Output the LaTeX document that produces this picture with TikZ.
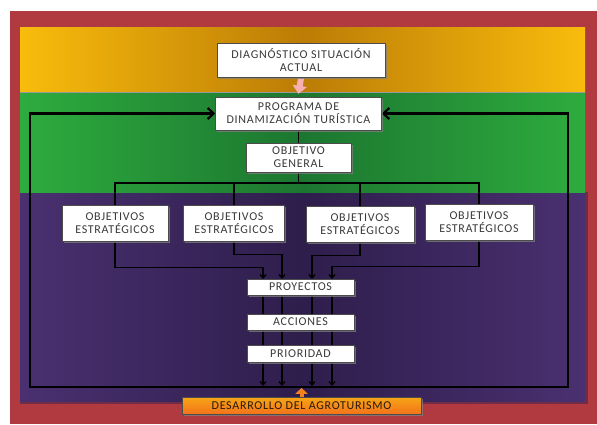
\documentclass[tikz,border=0pt]{standalone}
\usepackage{fontspec}
\setmainfont{Carlito}[LetterSpace=6]
\usetikzlibrary{arrows.meta,shadows}

\definecolor{marco}{RGB}{176,58,64}
\definecolor{oroA}{RGB}{248,188,12}
\definecolor{oroB}{RGB}{188,124,6}
\definecolor{verdeA}{RGB}{46,172,62}
\definecolor{verdeB}{RGB}{28,118,48}
\definecolor{moradoA}{RGB}{74,48,112}
\definecolor{moradoB}{RGB}{46,30,76}
\definecolor{rosa}{RGB}{246,176,180}
\definecolor{naranja}{RGB}{242,128,30}
\definecolor{textgris}{RGB}{58,58,58}

\pgfdeclarelayer{fondo}
\pgfdeclarelayer{lineas}
\pgfsetlayers{fondo,lineas,main}

\tikzset{
  caja/.style={draw=gray!60!black, fill=white, text=textgris, align=center,
    font=\fontsize{12}{13}\selectfont, inner sep=0pt,
    drop shadow={shadow xshift=1.6pt, shadow yshift=-1.6pt, opacity=0.75}},
  linea/.style={black, line width=1.3pt},
  flecha/.style={-{Straight Barb[length=3.5pt,width=6pt]}},
  lazo/.style={black, line width=2.2pt,
    {Straight Barb[length=6pt,width=11pt]}-{Straight Barb[length=6pt,width=11pt]}},
}

\begin{document}
\begin{tikzpicture}[x=1pt,y=-1pt]
	\useasboundingbox (0,0) rectangle (597,424);
	% cajas
	\node[caja, minimum width=168pt, minimum height=34pt] (diag) at (301,60) {DIAGNÓSTICO SITUACIÓN\\ACTUAL};
	\node[caja, minimum width=166pt, minimum height=33pt] (prog) at (298.5,113.5) {PROGRAMA DE\\DINAMIZACIÓN TURÍSTICA};
	\node[caja, minimum width=105pt, minimum height=29pt] (gen) at (298.5,157.5) {OBJETIVO\\GENERAL};
	\node[caja, minimum width=106pt, minimum height=36pt] (e1) at (115,223) {OBJETIVOS\\ESTRATÉGICOS};
	\node[caja, minimum width=101pt, minimum height=36pt] (e2) at (234,223) {OBJETIVOS\\ESTRATÉGICOS};
	\node[caja, minimum width=108pt, minimum height=36pt] (e3) at (360,224) {OBJETIVOS\\ESTRATÉGICOS};
	\node[caja, minimum width=108pt, minimum height=36pt] (e4) at (479,222) {OBJETIVOS\\ESTRATÉGICOS};
	\node[caja, minimum width=107pt, minimum height=16pt] (proy) at (300.5,287) {PROYECTOS};
	\node[caja, minimum width=107pt, minimum height=16pt] (acc) at (300.5,322) {ACCIONES};
	\node[caja, minimum width=107pt, minimum height=17pt] (prio) at (300.5,353.5) {PRIORIDAD};
	\node[caja, minimum width=239pt, minimum height=17pt, text=black!80!brown,
		top color=naranja!70!yellow, bottom color=naranja!90!red, draw=black!70] (des) at (301.5,405.5) {DESARROLLO DEL AGROTURISMO};

	\coordinate (bus) at (298.5,183);
	\coordinate (p1) at (263,279);
	\coordinate (p2) at (282,279);
	\coordinate (p3) at (312,279);
	\coordinate (p4) at (332,279);
	\coordinate (q1) at (263,386);
	\coordinate (q2) at (282,386);
	\coordinate (q3) at (312,386);
	\coordinate (q4) at (332,386);
	\coordinate (li) at (30,113.5);
	\coordinate (lb) at (30,387);
	\coordinate (rb) at (568,387);
	\coordinate (ri) at (568,113.5);

	% fondo
	\begin{pgfonlayer}{fondo}
		\fill[marco] (10,11) rectangle (597,424);
		\fill[moradoA!70!black, opacity=0.5] (20,192) rectangle (588,404);
		\fill[left color=moradoA, right color=moradoA, middle color=moradoB] (20,192) rectangle (585,401);
		\fill[left color=verdeA, right color=verdeA, middle color=verdeB] (20,92) rectangle (585,192);
		\fill[left color=oroA, right color=oroA, middle color=oroB] (20,27) rectangle (585,92);
		\draw[black!40, line width=0.8pt] (20,92) -- (585,92);
	\end{pgfonlayer}

	% conectores
	\begin{pgfonlayer}{lineas}
		\draw[rosa, line width=6pt, -{Triangle[length=8pt,width=14pt]}] ([yshift=-1pt]diag.south) -- ([yshift=3pt]prog.north);
		\draw[linea] (prog.south) -- (gen.north);
		\draw[linea] (gen.south) -- (bus);
		\draw[linea] (bus) -| (e1.north);
		\draw[linea] (bus) -| (e2.north);
		\draw[linea] (bus) -| (e3.north);
		\draw[linea] (bus) -| (e4.north);
		\draw[linea, flecha] (e1.south) -- ++(0,26) -| (p1);
		\draw[linea, flecha] (e2.south) -- ++(0,13) -| (p2);
		\draw[linea, flecha] (e3.south) -- ++(0,13) -| (p3);
		\draw[linea, flecha] (e4.south) -- ++(0,26) -| (p4);
		\draw[linea, flecha] (p1) -- (q1);
		\draw[linea, flecha] (p2) -- (q2);
		\draw[linea, flecha] (p3) -- (q3);
		\draw[linea, flecha] (p4) -- (q4);
		\draw[lazo] (prog.west) -- (li) -- (lb) -- (rb) -- (ri) -- (prog.east);
		\draw[naranja, line width=4pt, -{Triangle[length=6pt,width=12pt]}] (des.north) -- ([yshift=9pt]des.north);
	\end{pgfonlayer}
\end{tikzpicture}
\end{document}
